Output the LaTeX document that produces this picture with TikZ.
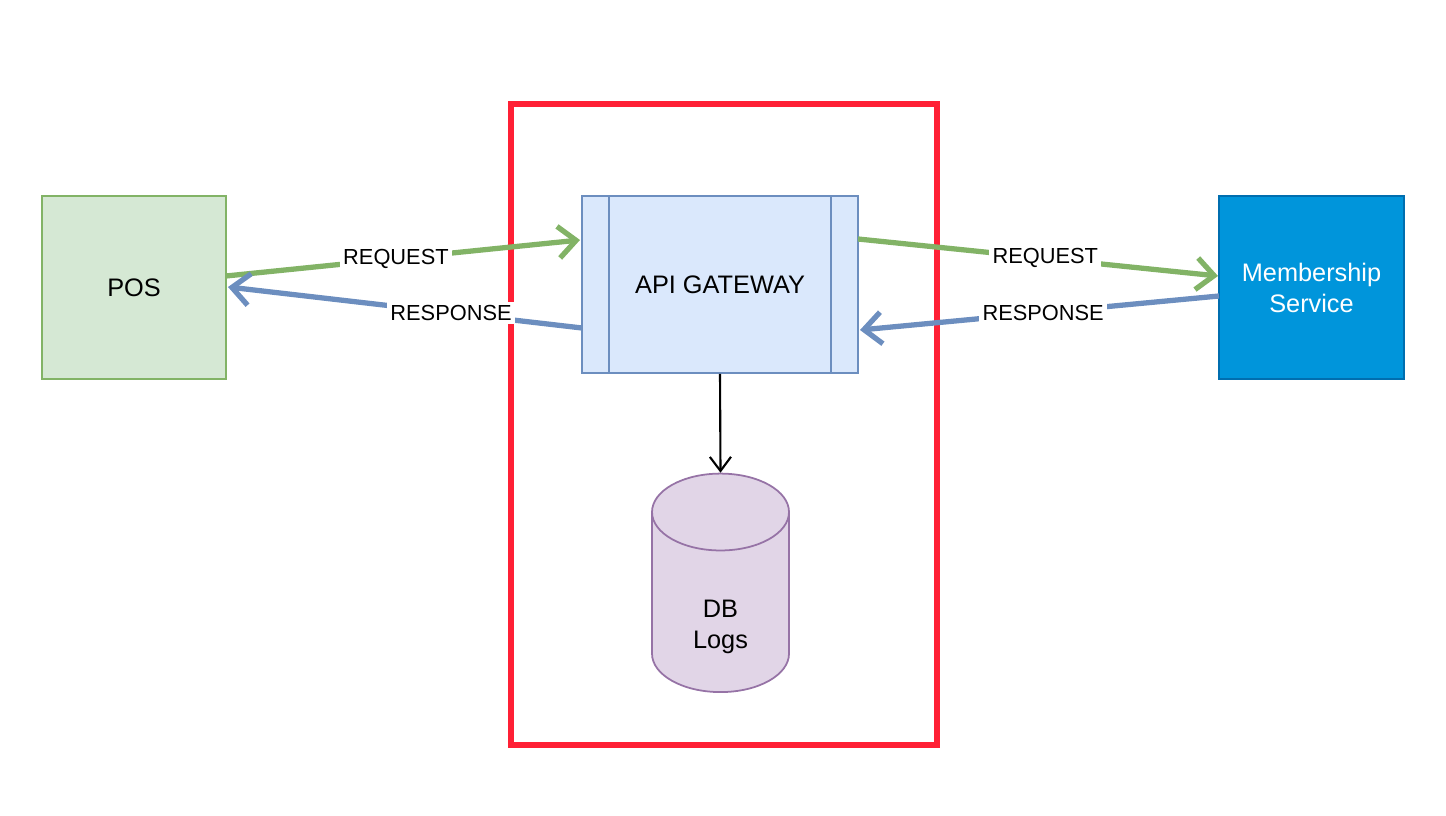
\documentclass[tikz,border=0pt]{standalone}
\usepackage{fontspec}
\setmainfont{Liberation Sans}
\usetikzlibrary{arrows.meta,shapes.geometric}
\definecolor{posf}{HTML}{D5E8D4}\definecolor{posd}{HTML}{82B366}
\definecolor{gwf}{HTML}{DAE8FC}\definecolor{gwd}{HTML}{6C8EBF}
\definecolor{msf}{HTML}{0095DB}\definecolor{msd}{HTML}{006EAF}
\definecolor{dbf}{HTML}{E1D5E7}\definecolor{dbd}{HTML}{9673A6}
\definecolor{redb}{HTML}{FF2035}
\definecolor{reqc}{HTML}{82B366}\definecolor{resc}{HTML}{6C8EBF}
\begin{document}
\begin{tikzpicture}[x=0.01cm,y=-0.01cm,
  txt/.style={font=\fontsize{7.2}{8.8}\selectfont},
  box/.style={draw,line width=0.5pt,inner sep=0pt,txt,align=center},
  flow/.style={line width=1.5pt,-{Straight Barb[length=5pt,width=9pt,line width=1.5pt]}},
  lbl/.style={fill=white,text=black,inner sep=1pt,font=\fontsize{6.2}{7}\selectfont}]
\useasboundingbox (0,0) rectangle (1446,816);
\node[draw=redb,line width=1.7pt,minimum width=426*0.01cm,minimum height=641*0.01cm,inner sep=0pt] (frame) at (724,424.5) {};
\node[box,fill=posf,draw=posd,minimum width=184*0.01cm,minimum height=183*0.01cm] (pos) at (134,287.5) {POS};
\node[box,fill=gwf,draw=gwd,minimum width=276*0.01cm,minimum height=177*0.01cm] (gw) at (720,284.5) {API GATEWAY};
\draw[gwd,line width=0.5pt] (gw.north west)++(28,0) -- ++(0,177);
\draw[gwd,line width=0.5pt] (gw.north east)++(-28,0) -- ++(0,177);
\node[box,fill=msf,draw=msd,text=white,minimum width=185*0.01cm,minimum height=183*0.01cm] (ms) at (1311.5,287.5) {Membership\\Service};
\node[cylinder,shape border rotate=90,aspect=1.4,draw=dbd,fill=dbf,line width=0.5pt,minimum width=137*0.01cm,minimum height=181*0.01cm,txt,align=center,inner sep=0pt] (db) at (720.5,602.5) {\\[10pt]DB\\Logs};
\coordinate (p1) at (226,276); \coordinate (g1) at (580,240);
\coordinate (g2) at (582,328); \coordinate (p2) at (228,287);
\coordinate (g3) at (858,239); \coordinate (m1) at (1218,276);
\coordinate (m2) at (1219,296); \coordinate (g4) at (860,330);
\draw[flow,reqc] (p1) -- node[lbl,pos=0.48]{REQUEST} (g1);
\draw[flow,resc] (g2) -- node[lbl,pos=0.37]{RESPONSE} (p2);
\draw[flow,reqc] (g3) -- node[lbl,pos=0.52]{REQUEST} (m1);
\draw[flow,resc] (m2) -- node[lbl,pos=0.49]{RESPONSE} (g4);
\draw[line width=0.6pt,-{Straight Barb[length=4pt,width=6pt,line width=0.6pt]}] (gw.south) -- (db.north);
\end{tikzpicture}
\end{document}
